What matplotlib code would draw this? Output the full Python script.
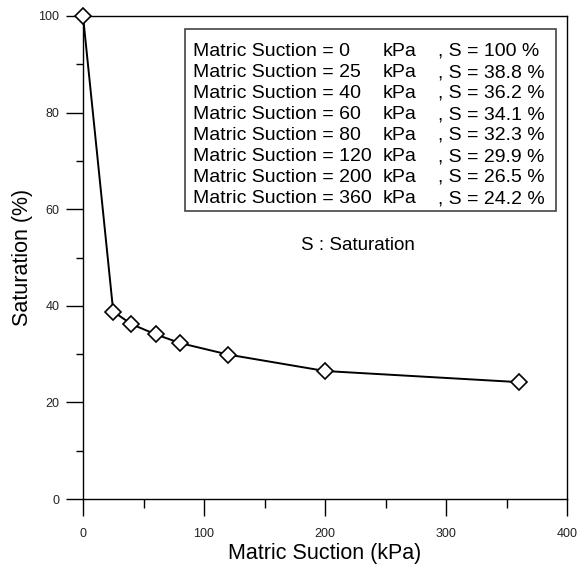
import numpy as np
import matplotlib.pyplot as plt
from matplotlib.ticker import MultipleLocator

plt.rcParams['font.family'] = ['Liberation Sans', 'DejaVu Sans']

suction = [0, 25, 40, 60, 80, 120, 200, 360]          # kPa
saturation = [100, 38.8, 36.2, 34.1, 32.3, 29.9, 26.5, 24.2]  # %

fig = plt.figure(figsize=(5.78, 5.65), dpi=100)
ax = fig.add_axes([83/578, 1 - 499/565, (567 - 83)/578, (499 - 16)/565])

ax.plot(suction, saturation, color='black', lw=1.4, marker='D', ms=8.5,
        mfc='white', mec='black', mew=1.2, clip_on=False, zorder=3)

ax.set_xlim(0, 400)
ax.set_ylim(0, 100)
ax.xaxis.set_major_locator(MultipleLocator(100))
ax.xaxis.set_minor_locator(MultipleLocator(50))
ax.yaxis.set_major_locator(MultipleLocator(20))
ax.yaxis.set_minor_locator(MultipleLocator(10))
ax.tick_params(axis='both', which='major', direction='out', length=12,
               width=1, labelsize=9, labelcolor='#222222')
ax.tick_params(axis='x', which='major', pad=9)
ax.tick_params(axis='y', which='major', pad=5)
ax.tick_params(axis='x', which='minor', direction='out', length=6.5, width=1)
ax.tick_params(axis='y', which='minor', direction='out', length=5, width=1)
for s in ax.spines.values():
    s.set_linewidth(1)

ax.set_xlabel('Matric Suction (kPa)', fontsize=15.5, labelpad=2)
ax.set_ylabel('Saturation (%)', fontsize=15.5, labelpad=4)

# legend-like box with the values
box = plt.Rectangle((185/578, 1 - 211/565), (556 - 185)/578, (211 - 29)/565,
                    transform=fig.transFigure, fill=False, ec='#444444', lw=1.2)
fig.add_artist(box)
for i, (xv, yv) in enumerate(zip(suction, saturation)):
    yb = 1 - (56 + 21 * i) / 565
    fig.text(193/578, yb, f'Matric Suction = {xv:g}', fontsize=14, va='baseline')
    fig.text(383/578, yb, 'kPa', fontsize=14, va='baseline')
    fig.text(438/578, yb, f', S = {yv:g} %', fontsize=14, va='baseline')

fig.text(358/578, 1 - 245/565, 'S : Saturation', fontsize=13.5,
         ha='center', va='center')

fig.savefig('out.png', dpi=100)
